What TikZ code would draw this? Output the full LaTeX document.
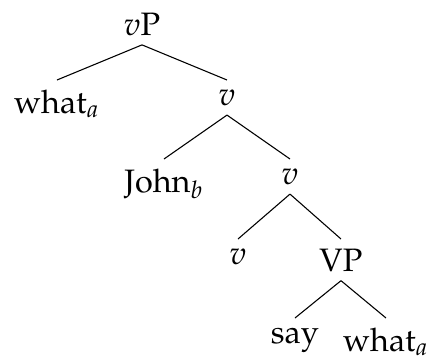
\documentclass[tikz,border=0pt]{standalone}
\usepackage[T1]{fontenc}
\usepackage{mathpazo}
\begin{document}
\begin{tikzpicture}[x=0.37pt, y=-0.37pt, font=\fontsize{12}{14.4}\selectfont,
  word/.style={anchor=north, inner sep=.3333em}]
  \useasboundingbox (0,0) rectangle (435,361);
  % Nodes hang from their top edge, one row per level
  \node[word] (vP)    at (142,   3) {$v$P};
  \node[word] (what1) at ( 57,  80) {what$_a$};
  \node[word] (v1)    at (227,  80) {$v$};
  \node[word] (john)  at (164, 159) {John$_b$};
  \node[word] (v2)    at (290, 159) {$v$};
  \node[word] (v3)    at (238, 239) {$v$};
  \node[word] (VP)    at (341, 239) {VP};
  \node[word] (say)   at (295, 318) {say};
  \node[word] (what2) at (386, 318) {what$_a$};
  % Branches: parent bottom to child top
  \foreach \p/\c in {vP/what1, vP/v1, v1/john, v1/v2, v2/v3, v2/VP, VP/say, VP/what2} {
    \draw (\p.south) -- (\c.north);
  }
\end{tikzpicture}
\end{document}
